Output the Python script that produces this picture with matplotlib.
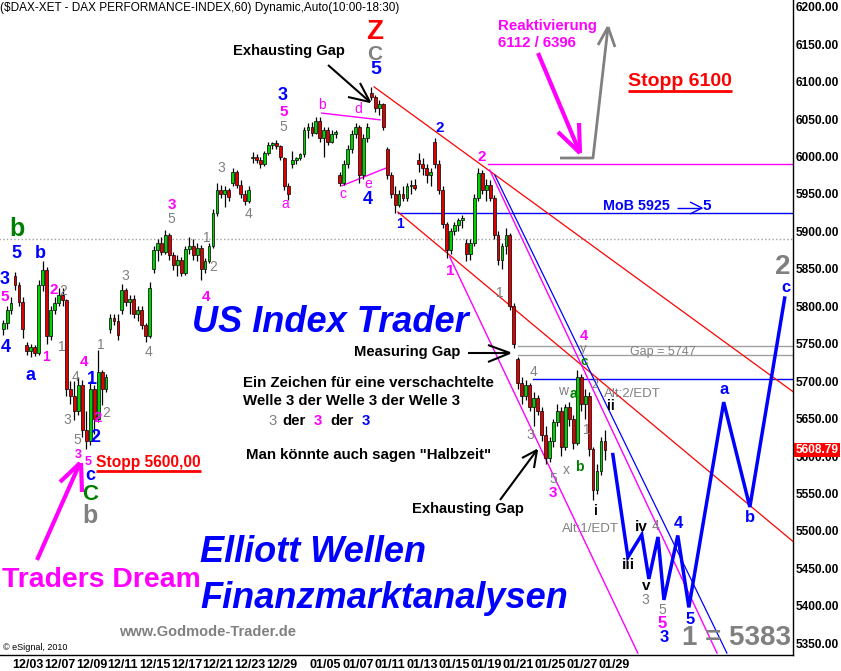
import numpy as np
import matplotlib
matplotlib.use('Agg')
import matplotlib.pyplot as plt
from matplotlib.transforms import Affine2D
from matplotlib.patches import Rectangle

plt.rcParams['font.family'] = ['Liberation Sans', 'DejaVu Sans']

# ---------------- data (hourly DAX candles) ----------------
opens = [5770, 5778, 5795, 5840, 5828, 5806, 5748, 5740, 5745, 5738, 5828, 5848, 5760, 5795, 5805, 5815,
         5808, 5690, 5680, 5660, 5695, 5635, 5620, 5690, 5650, 5712, 5690, 5770, 5785, 5780, 5795, 5822,
         5806, 5810, 5790, 5795, 5775, 5760, 5850, 5875, 5885, 5872, 5895, 5868, 5855, 5862, 5845, 5876,
         5880, 5868, 5878, 5850, 5860, 5880, 5925, 5955, 5950, 5955, 5965, 5980, 5962, 5950, 5940, 5998,
         6000, 5996, 5990, 6005, 6015, 6018, 6014, 5998, 5960, 5990, 5995, 5998, 6003, 6035, 6040, 6032,
         6048, 6025, 6035, 6020, 6030, 5975, 5965, 5990, 6010, 6030, 6040, 5975, 6025, 6085, 6080, 6065,
         6070, 6010, 5975, 5950, 5935, 5950, 5945, 5960, 5962, 5995, 5990, 5985, 5975, 6020, 5990, 5955,
         5910, 5875, 5900, 5908, 5915, 5885, 5870, 5885, 5945, 5978, 5955, 5962, 5945, 5895, 5862, 5880,
         5895, 5800, 5730, 5698, 5680, 5695, 5665, 5678, 5660, 5628, 5598, 5620, 5645, 5660, 5612, 5665,
         5650, 5618, 5705, 5670, 5680, 5610, 5555, 5580, 5620]
highs = [5782, 5800, 5812, 5846, 5832, 5812, 5752, 5750, 5748, 5835, 5860, 5852, 5800, 5812, 5825, 5825,
         5810, 5700, 5700, 5705, 5702, 5660, 5700, 5695, 5742, 5715, 5710, 5790, 5790, 5790, 5830, 5825,
         5815, 5815, 5800, 5800, 5778, 5832, 5880, 5890, 5892, 5902, 5898, 5872, 5868, 5866, 5880, 5892,
         5890, 5885, 5882, 5865, 5885, 5930, 5965, 5962, 5960, 5958, 5985, 5982, 5968, 5955, 5960, 6006,
         6004, 6000, 6008, 6020, 6020, 6022, 6016, 6000, 5965, 6008, 6000, 6005, 6040, 6045, 6046, 6053,
         6053, 6040, 6040, 6035, 6036, 5980, 5995, 6015, 6035, 6045, 6042, 6030, 6045, 6093, 6082, 6075,
         6072, 6013, 5980, 5960, 5955, 5960, 5965, 5968, 5970, 6005, 5998, 5990, 5985, 6025, 5995, 5960,
         5912, 5905, 5912, 5918, 5922, 5890, 5890, 5950, 5985, 5982, 5970, 5968, 5948, 5900, 5885, 5905,
         5898, 5805, 5732, 5705, 5702, 5698, 5685, 5682, 5665, 5640, 5625, 5650, 5670, 5665, 5670, 5672,
         5655, 5715, 5710, 5690, 5685, 5612, 5590, 5625, 5635]
lows = [5762, 5770, 5790, 5822, 5800, 5758, 5735, 5732, 5733, 5735, 5820, 5750, 5755, 5790, 5800, 5800,
        5680, 5670, 5648, 5655, 5625, 5610, 5615, 5630, 5645, 5668, 5685, 5765, 5775, 5755, 5790, 5800,
        5790, 5785, 5780, 5770, 5752, 5758, 5845, 5860, 5868, 5870, 5862, 5848, 5840, 5840, 5842, 5870,
        5862, 5860, 5835, 5845, 5858, 5878, 5920, 5945, 5932, 5940, 5960, 5958, 5945, 5935, 5938, 5992,
        5992, 5985, 5988, 6002, 6010, 6010, 5995, 5955, 5942, 5985, 5990, 5995, 6000, 6025, 6028, 6030,
        6020, 6000, 6015, 6018, 6025, 5960, 5962, 5985, 6005, 6025, 5965, 5970, 6020, 6075, 6060, 6055,
        6035, 5970, 5945, 5925, 5932, 5940, 5940, 5950, 5955, 5980, 5975, 5965, 5960, 5985, 5950, 5905,
        5865, 5870, 5895, 5900, 5905, 5860, 5862, 5880, 5940, 5950, 5940, 5940, 5890, 5855, 5850, 5870,
        5795, 5744, 5690, 5670, 5675, 5660, 5640, 5655, 5620, 5590, 5592, 5612, 5640, 5600, 5608, 5640,
        5610, 5615, 5660, 5650, 5600, 5541, 5550, 5575, 5595]
closes = [5778, 5795, 5805, 5828, 5806, 5770, 5740, 5745, 5738, 5828, 5848, 5760, 5795, 5805, 5815, 5808,
          5690, 5680, 5660, 5695, 5635, 5620, 5690, 5650, 5712, 5690, 5705, 5785, 5780, 5762, 5822, 5806,
          5810, 5790, 5795, 5775, 5760, 5825, 5875, 5885, 5872, 5895, 5868, 5855, 5862, 5845, 5876, 5880,
          5868, 5878, 5850, 5860, 5880, 5925, 5955, 5950, 5955, 5946, 5980, 5962, 5950, 5940, 5955, 6000,
          5996, 5990, 6005, 6015, 6018, 6014, 6000, 5960, 5950, 5995, 5998, 6003, 6035, 6040, 6032, 6048,
          6025, 6035, 6020, 6030, 6033, 5965, 5990, 6010, 6030, 6040, 5975, 6025, 6040, 6080, 6065, 6070,
          6040, 5975, 5950, 5935, 5950, 5945, 5960, 5962, 5958, 5990, 5985, 5975, 5980, 5990, 5955, 5910,
          5875, 5900, 5908, 5915, 5918, 5870, 5885, 5945, 5978, 5955, 5962, 5945, 5895, 5862, 5880, 5895,
          5800, 5750, 5698, 5680, 5695, 5665, 5678, 5660, 5628, 5598, 5620, 5645, 5660, 5612, 5665, 5650,
          5618, 5705, 5670, 5680, 5610, 5555, 5580, 5620, 5608.79]
first_bar = -3

# projected wave path (bar index, price)
proj_bar = [151, 154.8, 158.3, 160.1, 162.4, 163.9, 167.4, 170.2, 179.0, 185.6, 194.4]
proj_val = [5602, 5465, 5495, 5436, 5492, 5408, 5494, 5398, 5672, 5532, 5811]

# trend lines: (bar0, price0, bar1, price1)
red_lines = [(90.7, 6093, 196.5, 5686), (96.7, 5926, 196.5, 5486)]
magenta_lines = [(109.8, 5866, 157.3, 5337), (119.9, 5982, 177.3, 5337),
                 (77.5, 6058, 92.2, 6049), (82.6, 5961, 93.9, 5985)]
blue_lines = [(121.2, 5975, 179.8, 5337)]
# horizontal levels: (price, start bar, colour, style)
levels = [(5990, 119.4, '#ff00ff', '-'), (5925, 96.7, '#0000ff', '-'), (5703, 130.8, '#0000ff', '-'),
          (5890, -4, '#a0a0a0', ':'), (5747, 127, '#a0a0a0', '-'), (5735, 127, '#a0a0a0', '-')]

xtick_pos = [-0.6, 7.4, 15.4, 23.4, 31.4, 39.4, 47.4, 55.4, 63.4,
             74.5, 82.6, 90.7, 98.8, 106.9, 115.0, 123.1, 131.2, 139.3, 147.4]
xtick_lab = ['12/03', '12/07', '12/09', '12/11', '12/15', '12/17', '12/21', '12/23', '12/29',
             '01/05', '01/07', '01/11', '01/13', '01/15', '01/19', '01/21', '01/25', '01/27', '01/29']
ytick_vals = list(range(5350, 6201, 50))
last_price = 5608.79

# ---------------- figure ----------------
W, H = 841, 671
fig = plt.figure(figsize=(W / 100, H / 100), dpi=100)
fig.patch.set_facecolor('white')
ax = fig.add_axes([0, 16 / H, 793 / W, 655 / H])
ax.set_xlim(-3.79, 196.5)
ax.set_ylim(5334.4, 6209)
T = Affine2D().scale(1 / W, -1 / H).translate(0, 1) + fig.transFigure

for s in ['left', 'top']:
    ax.spines[s].set_visible(False)
for s in ['right', 'bottom']:
    ax.spines[s].set_color('black')
    ax.spines[s].set_linewidth(1.0)

ax.yaxis.tick_right()
ax.set_yticks(ytick_vals)
ax.set_yticklabels(['%.2f' % v for v in ytick_vals], fontsize=8.6, fontweight='bold')
ax.set_xticks(xtick_pos)
ax.set_xticklabels(xtick_lab, fontsize=9, fontweight='bold', ha='left')
ax.tick_params(axis='y', length=0, pad=2)
ax.tick_params(axis='x', length=0, pad=3)

# levels
for v, x0, col, ls in levels:
    ax.plot([x0, 196.5], [v, v], color=col, lw=1.0, ls=ls, zorder=1)
for (x0, y0, x1, y1) in red_lines:
    ax.plot([x0, x1], [y0, y1], color='#ff0000', lw=0.9, zorder=1)
for (x0, y0, x1, y1) in magenta_lines:
    ax.plot([x0, x1], [y0, y1], color='#ff00ff', lw=1.0, zorder=1)
for (x0, y0, x1, y1) in blue_lines:
    ax.plot([x0, x1], [y0, y1], color='#0000ff', lw=0.9, zorder=1)

# candles
o = np.array(opens); h = np.array(highs); l = np.array(lows); c = np.array(closes)
bx = np.arange(first_bar, first_bar + len(c))
up = c >= o
ax.vlines(bx, l, h, color='black', lw=0.9, zorder=3)
ax.bar(bx, np.maximum(np.abs(c - o), 1.5), bottom=np.minimum(o, c), width=0.72,
       color=np.where(up, '#00d000', '#e00000'), edgecolor='black', linewidth=0.5, zorder=4)

# projection
ax.plot(proj_bar, proj_val, color='#0000ff', lw=2.5, zorder=5, solid_joinstyle='miter')

# ---------------- annotations (pixel positions) ----------------
def txt(px, py, s, color='black', size=10, weight='bold', ha='center', style='normal'):
    fig.text(px, py, s, color=color, fontsize=size, fontweight=weight, ha=ha, va='center',
             fontstyle=style, transform=T, zorder=10)

def line(xs, ys, color='black', lw=1.5):
    ax.plot(xs, ys, color=color, lw=lw, transform=T, clip_on=False, zorder=9,
            solid_capstyle='butt')

BL, MG, GR, GN, RD = '#0000ff', '#ff00ff', '#808080', '#008000', '#ff0000'

txt(0, 8, '($DAX-XET - DAX PERFORMANCE-INDEX,60) Dynamic,Auto(10:00-18:30)', size=8.5,
    weight='normal', ha='left')

# left cluster
txt(0, 279, '3', BL, 13, ha='left'); txt(0, 297, '5', MG, 11, ha='left')
txt(17, 229, 'b', GN, 18); txt(16, 253, '5', BL, 13); txt(40, 253, 'b', BL, 13)
txt(6, 347, '4', BL, 13); txt(31, 376, 'a', BL, 13)
txt(46, 357, '1', MG, 10); txt(54, 290, '2', MG, 11); txt(63, 291, '2', GR, 10, 'normal')
txt(62, 347, '1', GR, 10, 'normal'); txt(84, 362, '4', MG, 11); txt(76, 377, '4', GR, 10, 'normal')
txt(92, 379, '1', BL, 13); txt(67, 420, '3', GR, 10, 'normal'); txt(98, 418, '2', MG, 11)
txt(106, 413, '2', GR, 10, 'normal'); txt(77, 440, '5', GR, 10, 'normal'); txt(95, 437, '2', BL, 13)
txt(101, 345, '1', GR, 10, 'normal')
txt(78, 455, '3', MG, 9); txt(88, 462, '5', MG, 9)
txt(90, 476, 'c', BL, 13); txt(90, 494, 'C', GN, 16); txt(90, 516, 'b', GR, 18)
txt(148, 463, 'Stopp 5600,00', RD, 11.2)
line([96, 201], [471, 471], RD, 2)

txt(125, 276, '3', GR, 10, 'normal'); txt(149, 352, '4', GR, 10, 'normal')
txt(172, 205, '3', MG, 11); txt(171, 219, '5', GR, 10, 'normal')
txt(207, 238, '1', GR, 10, 'normal'); txt(213, 267, '2', GR, 10, 'normal'); txt(206, 297, '4', MG, 11)
txt(221, 168, '3', GR, 10, 'normal'); txt(249, 214, '4', GR, 10, 'normal')
txt(283, 95, '3', BL, 13); txt(284, 112, '5', MG, 11); txt(283, 127, '5', GR, 10, 'normal')
txt(285, 204, 'a', MG, 10, 'normal'); txt(322, 105, 'b', MG, 10, 'normal')
txt(358, 109, 'd', MG, 10, 'normal'); txt(343, 194, 'c', MG, 10, 'normal')
txt(368, 184, 'e', MG, 10, 'normal'); txt(368, 200, '4', BL, 13)
txt(375, 32, 'Z', RD, 20); txt(375, 54, 'C', GR, 15); txt(376, 70, '5', BL, 14)
txt(289, 51, 'Exhausting Gap', 'black', 10.6)
line([328, 370], [65, 102]); line([348, 370], [97, 102]); line([360, 370], [83, 102])

txt(400, 224, '1', BL, 10); txt(440, 128, '2', BL, 11); txt(482, 157, '2', MG, 11)
txt(450, 271, '1', MG, 11); txt(500, 293, '1', GR, 10, 'normal')
txt(534, 372, '4', GR, 10, 'normal'); txt(530, 435, '3', GR, 10, 'normal')
txt(553, 479, '5', GR, 10, 'normal'); txt(553, 493, '3', MG, 11)
txt(566, 470, 'x', GR, 10, 'normal'); txt(579, 467, 'b', GN, 10)
txt(563, 391, 'w', GR, 10, 'normal'); txt(573, 394, 'a', GN, 10)
txt(584, 336, '4', MG, 10.5); txt(583, 349, 'y', GR, 9.5, 'normal'); txt(584, 362, 'c', GN, 9.5)
txt(595, 385, '2', GR, 9, 'normal'); txt(587, 430, '1', GR, 10, 'normal')
txt(632, 394, 'Alt:2/EDT', GR, 9.5, 'normal'); txt(611, 406, 'ii', 'black', 10)
txt(596, 511, 'i', 'black', 10); txt(590, 529, 'Alt:1/EDT', GR, 9.5, 'normal')
txt(663, 352, 'Gap = 5747', GR, 9, 'normal')

txt(628, 565, 'iii', 'black', 11); txt(641, 527, 'iv', 'black', 11); txt(646, 586, 'v', 'black', 11)
txt(645, 600, '3', GR, 10, 'normal'); txt(656, 526, '4', GR, 10, 'normal')
txt(662, 610, '5', GR, 10, 'normal'); txt(662, 624, '5', MG, 12); txt(664, 638, '3', BL, 12)
txt(678, 524, '4', BL, 12); txt(690, 619, '5', BL, 12)
txt(724, 390, 'a', BL, 12); txt(750, 518, 'b', BL, 12); txt(786, 287, 'c', BL, 12)
txt(783, 267, '2', GR, 20)
txt(737, 638, '1 = 5383', GR, 20)

txt(547, 26, 'Reaktivierung', MG, 10.8)
txt(498, 43, '6112 / 6396', MG, 10.8, ha='left')
line([538, 580], [53, 153], MG, 3); line([558, 580], [132, 153], MG, 3); line([579, 580], [123, 153], MG, 3)
line([560, 593, 608], [158, 158, 27], GR, 2); line([598, 608], [45, 27], GR, 2); line([615, 608], [47, 27], GR, 2)
txt(680, 82, 'Stopp 6100', RD, 14)
line([628, 732], [91, 91], RD, 2)
txt(636, 206, 'MoB 5925', BL, 10.3)
line([677, 702], [208, 208], BL, 1); line([690, 702], [202, 208], BL, 1); line([690, 702], [214, 208], BL, 1)
txt(707, 206, '5', BL, 11)

txt(330, 323, 'US Index Trader', BL, 26, style='italic')
txt(407, 352, 'Measuring Gap', 'black', 10.6)
line([468, 510], [353, 353]); line([488, 510], [345, 353]); line([488, 510], [362, 353])
txt(243, 383, 'Ein Zeichen für eine verschachtelte', 'black', 10.8, ha='left')
txt(243, 401, 'Welle 3 der Welle 3 der Welle 3', 'black', 10.8, ha='left')
txt(273, 421, '3', GR, 10.8, 'normal'); txt(294, 421, 'der', 'black', 10.8)
txt(318, 421, '3', MG, 10.8); txt(342, 421, 'der', 'black', 10.8); txt(366, 421, '3', BL, 10.8)
txt(246, 455, 'Man könnte auch sagen "Halbzeit"', 'black', 10.8, ha='left')
txt(468, 509, 'Exhausting Gap', 'black', 10.6)
line([500, 537], [500, 450]); line([522, 537], [458, 450]); line([534, 537], [468, 450])

txt(200, 553, 'Elliott Wellen', BL, 26, ha='left', style='italic')
txt(200, 598, 'Finanzmarktanalysen', BL, 26, ha='left', style='italic')
txt(2, 580, 'Traders Dream', MG, 20.4, ha='left')
line([37, 80], [560, 463], MG, 3); line([60, 80], [482, 463], MG, 3); line([82, 81], [492, 463], MG, 3)
txt(208, 632, 'www.Godmode-Trader.de', GR, 10.5)
txt(3, 648, '© eSignal, 2010', 'black', 6.5, 'normal', ha='left')

# last price marker
fig.add_artist(Rectangle((794, 443), 46, 14, transform=T, facecolor='#ff0000', edgecolor='none', zorder=11))
fig.text(817, 450, '%.2f' % last_price, color='white', fontsize=8.6, fontweight='bold', ha='center',
         va='center', transform=T, zorder=12)

fig.savefig('out.png', dpi=100, facecolor='white')
